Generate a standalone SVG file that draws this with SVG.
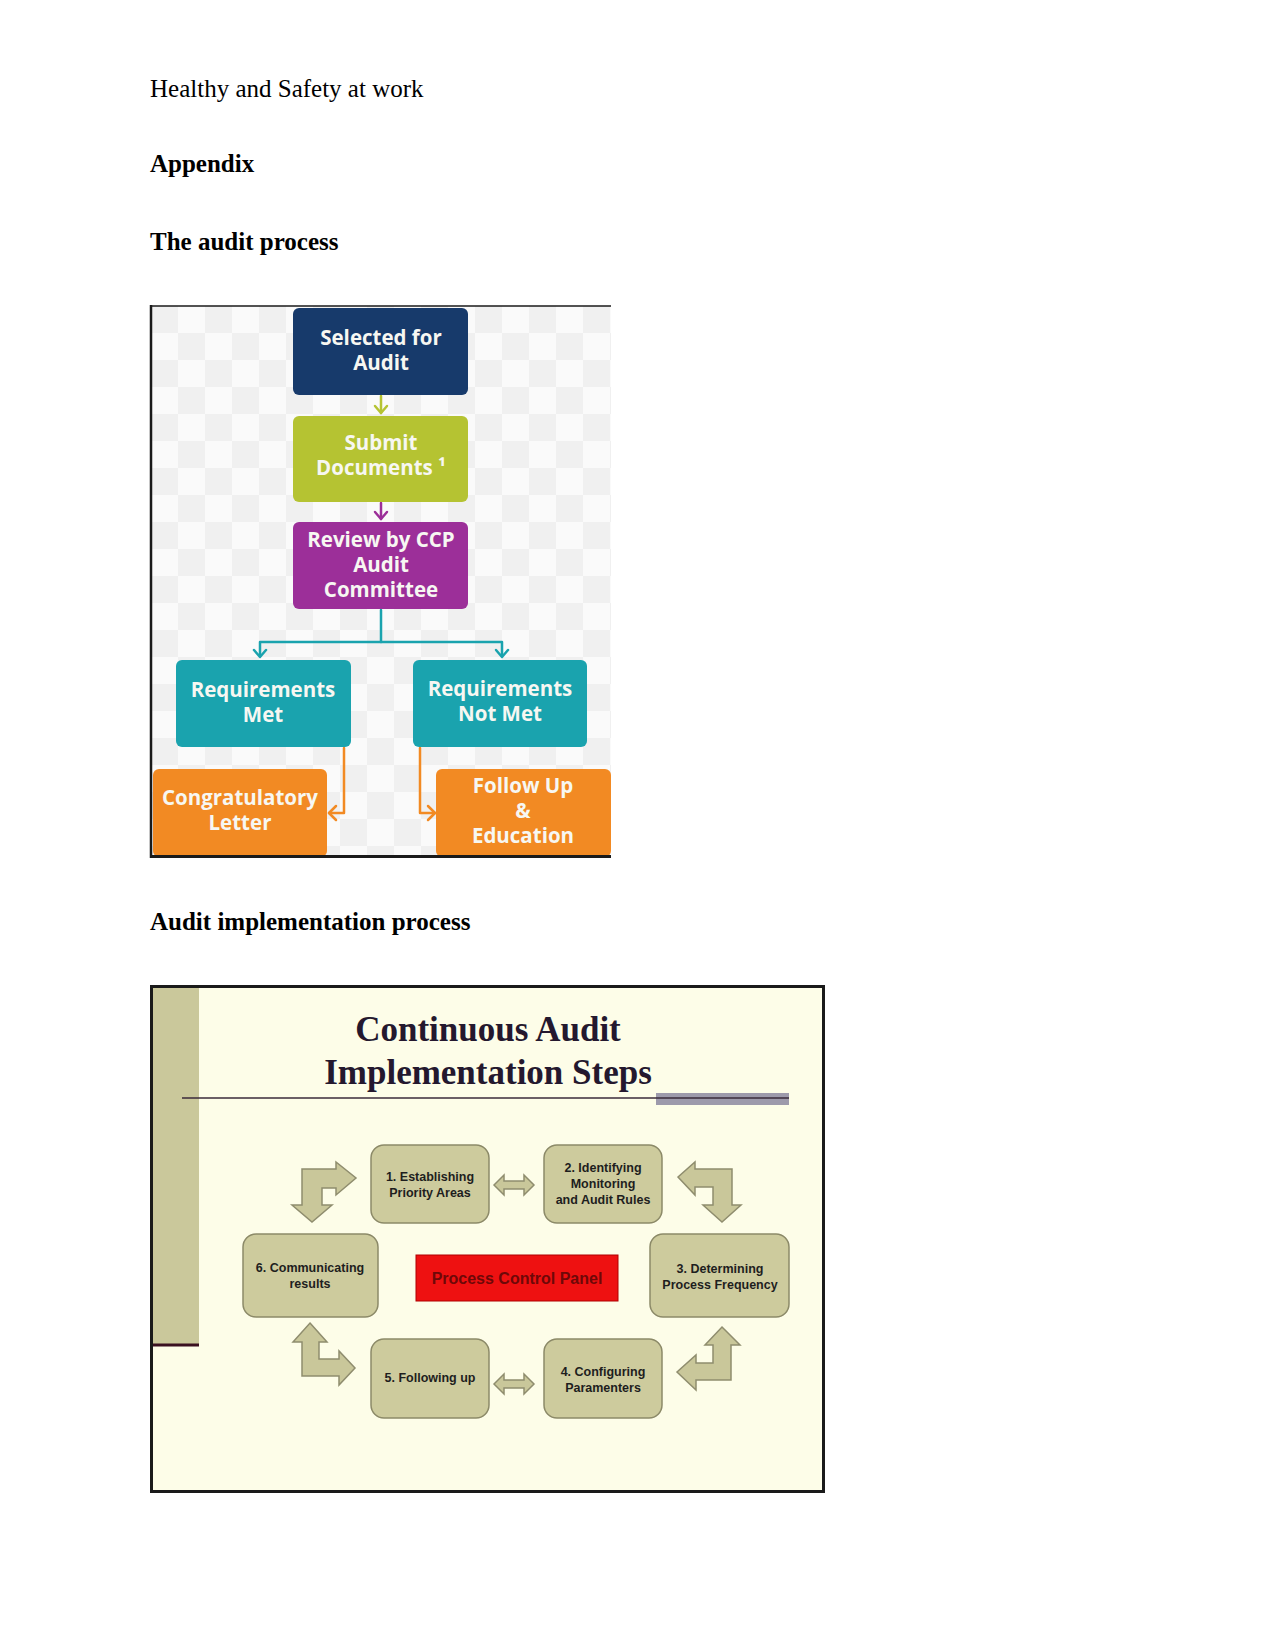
<svg xmlns="http://www.w3.org/2000/svg" width="1275" height="1650" viewBox="0 0 1275 1650">
<defs>
<style>
.doc{font-family:"Liberation Serif","Times New Roman",serif;font-size:25px;fill:#000}
.b{font-weight:bold}
.ft{font-family:"Open Sans","Noto Sans","DejaVu Sans",sans-serif;font-weight:bold;font-size:20.5px;fill:#f7f7f2;text-anchor:middle}
.st{font-family:"Liberation Sans",Arial,sans-serif;font-weight:bold;font-size:12.5px;fill:#1e1e1e;text-anchor:middle}
.step{fill:#cdcb9d;stroke:#8c8a68;stroke-width:1.5}
.bent{fill:#c9c79a;stroke:#8f8d6e;stroke-width:1.5;stroke-linejoin:miter}
.conn{fill:none;stroke-width:2.5;stroke-linecap:round;stroke-linejoin:round}
</style>
<pattern id="chk" x="151" y="306" width="54" height="54" patternUnits="userSpaceOnUse">
<rect width="54" height="54" fill="#fafafa"/>
<rect width="27" height="27" fill="#f0f0f0"/>
<rect x="27" y="27" width="27" height="27" fill="#f0f0f0"/>
</pattern>
</defs>
<rect width="1275" height="1650" fill="#ffffff"/>

<g id="page-text">
<text class="doc" x="150" y="97">Healthy and Safety at work</text>
<text class="doc b" x="150" y="172">Appendix</text>
<text class="doc b" x="150" y="250">The audit process</text>
<text class="doc b" x="150" y="930">Audit implementation process</text>
</g>

<!-- Figure 1: audit process -->
<g id="figure1">
<rect x="151" y="306" width="460" height="550" fill="url(#chk)"/>
<g id="connectors1">
<g stroke="#b5c332" class="conn"><line x1="381" y1="396" x2="381" y2="413"/><polyline points="375,406 381,413 387,406"/></g>
<g stroke="#9c2f99" class="conn"><line x1="381" y1="503" x2="381" y2="519"/><polyline points="375,512 381,519 387,512"/></g>
<g stroke="#1aa3ae" class="conn">
<polyline points="381,610 381,642"/>
<polyline points="260,656 260,642 502,642 502,656"/>
<polyline points="254,650 260,657 266,650"/>
<polyline points="496,650 502,657 508,650"/>
</g>
<g stroke="#f28a23" class="conn">
<polyline points="344,748 344,813 329,813"/>
<polyline points="336,806 329,813 336,820"/>
<polyline points="420,748 420,813 435,813"/>
<polyline points="428,806 435,813 428,820"/>
</g>
</g>
<g id="n-selected"><rect x="293" y="308" width="175" height="87" rx="6" fill="#173a6b"/>
<text class="ft" x="381" y="345">Selected for</text><text class="ft" x="381" y="370">Audit</text></g>
<g id="n-submit"><rect x="293" y="416" width="175" height="86" rx="6" fill="#b5c332"/>
<text class="ft" x="381" y="450" fill="#f6f6e2">Submit</text><text class="ft" x="381" y="475">Documents ¹</text></g>
<g id="n-review"><rect x="293" y="522" width="175" height="87" rx="6" fill="#9c2f99"/>
<text class="ft" x="381" y="547">Review by CCP</text><text class="ft" x="381" y="572">Audit</text><text class="ft" x="381" y="597">Committee</text></g>
<g id="n-met"><rect x="176" y="660" width="175" height="87" rx="6" fill="#1aa3ae"/>
<text class="ft" x="263" y="697">Requirements</text><text class="ft" x="263" y="722">Met</text></g>
<g id="n-notmet"><rect x="413" y="660" width="174" height="87" rx="6" fill="#1aa3ae"/>
<text class="ft" x="500" y="696">Requirements</text><text class="ft" x="500" y="721">Not Met</text></g>
<g id="n-congrats"><rect x="153" y="769" width="174" height="88" rx="6" fill="#f28a23"/>
<text class="ft" x="240" y="805">Congratulatory</text><text class="ft" x="240" y="830">Letter</text></g>
<g id="n-followup"><rect x="436" y="769" width="175" height="88" rx="6" fill="#f28a23"/>
<text class="ft" x="523" y="793">Follow Up</text><text class="ft" x="523" y="818">&amp;</text><text class="ft" x="523" y="843">Education</text></g>
<g id="frame1" fill="none" stroke="#1a1a1a">
<line x1="151" y1="306" x2="611" y2="306" stroke-width="1.5"/>
<line x1="151" y1="305" x2="151" y2="858" stroke-width="2.5"/>
<line x1="150" y1="856.5" x2="611" y2="856.5" stroke-width="3"/>
</g>
</g>

<!-- Figure 2: continuous audit implementation steps -->
<g id="figure2">
<rect x="150" y="985" width="675" height="508" fill="#fdfde8"/>
<rect x="153" y="988" width="46" height="356" fill="#cac89b"/>
<line x1="153" y1="1345" x2="199" y2="1345" stroke="#3a1020" stroke-width="3"/>
<g id="title">
<text x="488" y="1041" text-anchor="middle" font-family="'Liberation Serif','Times New Roman',serif" font-weight="bold" font-size="35" fill="#24182e">Continuous Audit</text>
<text x="488" y="1084" text-anchor="middle" font-family="'Liberation Serif','Times New Roman',serif" font-weight="bold" font-size="35" fill="#24182e">Implementation Steps</text>
<rect x="656" y="1093" width="133" height="12" fill="#9d9aab"/>
<line x1="182" y1="1098" x2="789" y2="1098" stroke="#3a2a3a" stroke-width="1.5"/>
</g>
<g id="connectors2">
<polygon class="bent" points="302,1169 336,1169 336,1162 356,1178 336,1195 336,1188 322,1188 322,1205 332,1205 312,1222 292,1205 302,1205"/>
<polygon class="bent" points="678,1177 695,1162 695,1169 732,1169 732,1205 741,1205 722,1222 703,1205 713,1205 713,1187 695,1187 695,1195"/>
<polygon class="bent" points="310,1323 327,1342 319,1342 319,1359 339,1359 339,1351 355,1368 339,1385 339,1376 302,1376 302,1342 293,1342"/>
<polygon class="bent" points="722,1327 740,1345 731,1345 731,1380 696,1380 696,1390 677,1372 696,1355 696,1363 713,1363 713,1345 705,1345"/>
<polygon class="bent" points="494,1185 504,1175 504,1181 524,1181 524,1175 534,1185 524,1195 524,1189 504,1189 504,1195"/>
<polygon class="bent" points="494,1384 504,1374 504,1380 524,1380 524,1374 534,1384 524,1394 524,1388 504,1388 504,1394"/>
</g>
<g id="s1"><rect class="step" x="371" y="1145" width="118" height="78" rx="13"/>
<text class="st" x="430" y="1181">1. Establishing</text><text class="st" x="430" y="1197">Priority Areas</text></g>
<g id="s2"><rect class="step" x="544" y="1145" width="118" height="78" rx="13"/>
<text class="st" x="603" y="1172">2. Identifying</text><text class="st" x="603" y="1188">Monitoring</text><text class="st" x="603" y="1204">and Audit Rules</text></g>
<g id="s3"><rect class="step" x="650" y="1234" width="139" height="83" rx="13"/>
<text class="st" x="720" y="1273">3. Determining</text><text class="st" x="720" y="1289">Process Frequency</text></g>
<g id="s4"><rect class="step" x="544" y="1339" width="118" height="79" rx="13"/>
<text class="st" x="603" y="1376">4. Configuring</text><text class="st" x="603" y="1392">Paramenters</text></g>
<g id="s5"><rect class="step" x="371" y="1339" width="118" height="79" rx="13"/>
<text class="st" x="430" y="1382">5. Following up</text></g>
<g id="s6"><rect class="step" x="243" y="1234" width="135" height="83" rx="13"/>
<text class="st" x="310" y="1272">6. Communicating</text><text class="st" x="310" y="1288">results</text></g>
<g id="panel"><rect x="416" y="1255" width="202" height="46" fill="#ee1111" stroke="#b00000" stroke-width="1"/>
<text x="517" y="1284" text-anchor="middle" font-family="'Liberation Sans',Arial,sans-serif" font-weight="bold" font-size="16" fill="#6e0808">Process Control Panel</text></g>
<rect x="151.5" y="986.5" width="672" height="505" fill="none" stroke="#1a1a1a" stroke-width="3"/>
</g>
</svg>
